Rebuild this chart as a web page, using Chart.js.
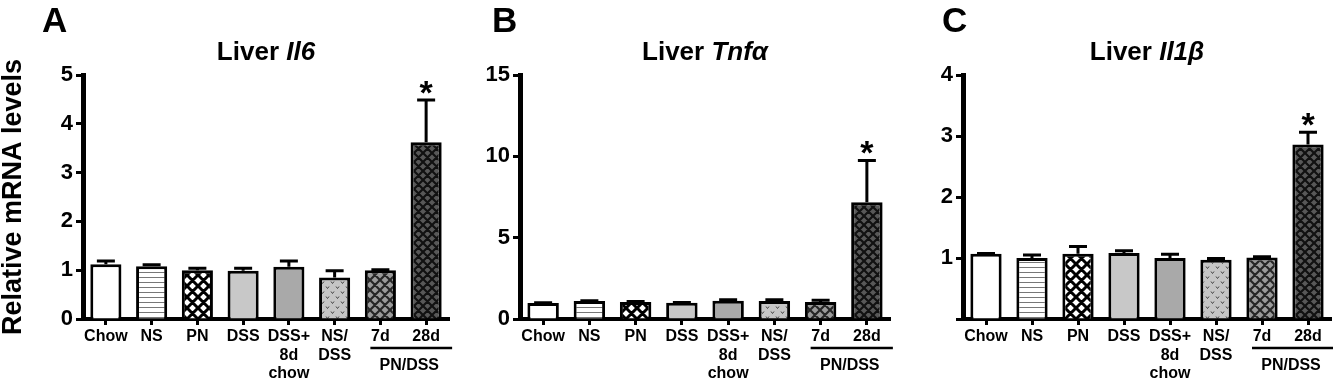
<!DOCTYPE html>
<html>
<head>
<meta charset="utf-8">
<script src="https://cdn.jsdelivr.net/npm/chart.js@4.4.0/dist/chart.umd.min.js"></script>
<style>
  html, body { margin: 0; padding: 0; background: #fff; }
  #wrap { position: relative; width: 1333px; height: 384px; overflow: hidden; }
  canvas { position: absolute; top: 0; }
</style>
</head>
<body>
<div id="wrap">
  <canvas id="chartA" width="460" height="384" style="left:0px"></canvas>
  <canvas id="chartB" width="450" height="384" style="left:450px"></canvas>
  <canvas id="chartC" width="433" height="384" style="left:900px"></canvas>
</div>
<script>
// groups on the x axis
const groups = ['Chow', 'NS', 'PN', 'DSS', ['DSS+', '8d', 'chow'], ['NS/', 'DSS'], '7d', '28d'];

// Liver Il6
const il6Mean = [1.12, 1.08, 1.00, 0.99, 1.07, 0.85, 1.00, 3.62];
const il6Sem  = [0.07, 0.03, 0.04, 0.05, 0.12, 0.14, 0.01, 0.87];
const il6Ticks = [0, 1, 2, 3, 4, 5];

// Liver Tnfa
const tnfMean = [0.98, 1.10, 1.04, 1.00, 1.12, 1.10, 1.04, 7.17];
const tnfSem  = [0.02, 0.02, 0.03, 0.02, 0.06, 0.09, 0.11, 2.58];
const tnfTicks = [0, 5, 10, 15];

// Liver Il1b
const il1bMean = [1.07, 1.00, 1.07, 1.08, 1.00, 0.97, 1.01, 2.86];
const il1bSem  = [0.005, 0.05, 0.12, 0.04, 0.06, 0.02, 0.01, 0.20];
const il1bTicks = [0, 1, 2, 3, 4];

// groups marked with *
const starIndex = 7;

Chart.defaults.font.family = '"Liberation Sans", Arial, sans-serif';
Chart.defaults.color = '#000';

// fill patterns for bars
function makePattern(size, bg, draw) {
    const c = document.createElement('canvas');
    c.width = size;
    c.height = size;
    const g = c.getContext('2d');
    g.fillStyle = bg;
    g.fillRect(0, 0, size, size);
    draw(g, size);
    return g.createPattern(c, 'repeat');
}

function crossHatch(size, bg, line, width) {
    return makePattern(size, bg, (g, s) => {
        g.strokeStyle = line;
        g.lineWidth = width;
        g.beginPath();
        [-s, 0, s].forEach(d => {
            g.moveTo(d, 0); g.lineTo(d + s, s);
            g.moveTo(d + s, 0); g.lineTo(d, s);
        });
        g.stroke();
    });
}

const fills = [
    '#ffffff',
    makePattern(5, '#ffffff', (g, s) => {
        g.fillStyle = '#777';
        g.fillRect(0, 2, s, 1);
    }),
    crossHatch(11, '#ffffff', '#000', 3),
    '#c8c8c8',
    '#a9a9a9',
    makePattern(10, '#c6c6c6', (g) => {
        g.strokeStyle = '#444';
        g.lineWidth = 1;
        g.beginPath();
        g.moveTo(1, 1.5); g.lineTo(2.5, 3.5); g.lineTo(4, 1.5);
        g.moveTo(6, 6.5); g.lineTo(7.5, 8.5); g.lineTo(9, 6.5);
        g.stroke();
    }),
    crossHatch(10, '#9a9a9a', '#262626', 2.2),
    crossHatch(9, '#585858', '#111', 2.2)
];

// extra drawings: panel letter, title, error bars, star, PN/DSS bracket
const extrasPlugin = {
    id: 'extras',
    afterDraw(chart, args, opts) {
        const ctx = chart.ctx;
        const area = chart.chartArea;
        const y = chart.scales.y;
        const meta = chart.getDatasetMeta(0);
        const means = chart.data.datasets[0].data;
        ctx.save();
        ctx.fillStyle = '#000';
        ctx.strokeStyle = '#000';
        ctx.textBaseline = 'alphabetic';

        // panel letter
        ctx.font = 'bold 35px "Liberation Sans", Arial, sans-serif';
        ctx.textAlign = 'left';
        ctx.fillText(opts.letter, 42, 32);

        // title: "Liver" + italic gene name
        const f1 = 'bold 26px "Liberation Sans", Arial, sans-serif';
        const f2 = 'italic bold 26px "Liberation Sans", Arial, sans-serif';
        ctx.font = f1;
        const w1 = ctx.measureText('Liver ').width;
        ctx.font = f2;
        const w2 = ctx.measureText(opts.gene).width;
        const tx = (area.left + area.right) / 2 - (w1 + w2) / 2;
        ctx.font = f1;
        ctx.fillText('Liver ', tx, 60);
        ctx.font = f2;
        ctx.fillText(opts.gene, tx + w1, 60);

        // error bars (upper only)
        ctx.lineWidth = 3;
        ctx.beginPath();
        opts.sem.forEach((s, i) => {
            const bx = meta.data[i].x;
            const yBar = y.getPixelForValue(means[i]);
            const yTop = y.getPixelForValue(means[i] + s);
            ctx.moveTo(bx, yBar);
            ctx.lineTo(bx, yTop);
            ctx.moveTo(bx - 9, yTop);
            ctx.lineTo(bx + 9, yTop);
        });
        ctx.stroke();

        // significance star
        const sx = meta.data[starIndex].x;
        const sTop = y.getPixelForValue(means[starIndex] + opts.sem[starIndex]);
        ctx.font = 'bold 34px "Liberation Sans", Arial, sans-serif';
        ctx.textAlign = 'center';
        ctx.fillText('*', sx, sTop + 4);

        // PN/DSS bracket under 7d and 28d
        const x7 = meta.data[6].x;
        const x28 = meta.data[7].x;
        ctx.lineWidth = 2.5;
        ctx.beginPath();
        ctx.moveTo(x7 - 10, 348);
        ctx.lineTo(x28 + 26, 348);
        ctx.stroke();
        ctx.font = 'bold 16px "Liberation Sans", Arial, sans-serif';
        ctx.fillText('PN/DSS', (x7 + x28) / 2 + 6, 370);
        ctx.restore();
    }
};

function buildChart(id, opts) {
    const ticks = opts.ticks;
    return new Chart(document.getElementById(id), {
        type: 'bar',
        data: {
            labels: groups,
            datasets: [{
                data: opts.mean,
                backgroundColor: fills,
                borderColor: '#000',
                borderWidth: 3,
                barPercentage: 0.68,
                categoryPercentage: 1.0
            }]
        },
        options: {
            responsive: false,
            animation: false,
            layout: { padding: { top: 75, right: opts.padRight, bottom: 0, left: 0 } },
            plugins: {
                legend: { display: false },
                tooltip: { enabled: false },
                extras: { letter: opts.letter, gene: opts.gene, sem: opts.sem }
            },
            scales: {
                x: {
                    afterFit: (scale) => { scale.height = 65; },
                    border: { display: true, color: '#000', width: 4 },
                    grid: {
                        display: true,
                        drawOnChartArea: false,
                        offset: false,
                        tickLength: 6,
                        tickWidth: 3,
                        tickColor: '#000'
                    },
                    ticks: {
                        font: { size: 16, weight: 'bold', lineHeight: 1.13 },
                        color: '#000',
                        padding: 3,
                        maxRotation: 0,
                        minRotation: 0,
                        autoSkip: false
                    }
                },
                y: {
                    min: ticks[0],
                    max: ticks[ticks.length - 1],
                    afterFit: (scale) => { scale.width = opts.axisWidth; },
                    border: { display: true, color: '#000', width: 5 },
                    grid: {
                        display: true,
                        drawOnChartArea: false,
                        tickLength: 7,
                        tickWidth: 3,
                        tickColor: '#000'
                    },
                    ticks: {
                        stepSize: ticks[1] - ticks[0],
                        font: { size: 22, weight: 'bold' },
                        color: '#000',
                        padding: 3,
                        callback: (v) => (opts.hideZero && v === 0) ? '' : v
                    },
                    title: {
                        display: !!opts.yTitle,
                        text: opts.yTitle || '',
                        color: '#000',
                        padding: 0,
                        font: { size: 27, weight: 'bold', lineHeight: 1 }
                    }
                }
            }
        },
        plugins: [extrasPlugin]
    });
}

buildChart('chartA', {
    letter: 'A', gene: 'Il6', mean: il6Mean, sem: il6Sem, ticks: il6Ticks,
    axisWidth: 83, padRight: 11, yTitle: 'Relative mRNA levels'
});
buildChart('chartB', {
    letter: 'B', gene: 'Tnf\u03b1', mean: tnfMean, sem: tnfSem, ticks: tnfTicks,
    axisWidth: 70, padRight: 10
});
buildChart('chartC', {
    letter: 'C', gene: 'Il1\u03b2', mean: il1bMean, sem: il1bSem, ticks: il1bTicks,
    axisWidth: 63, padRight: 2, hideZero: true
});
</script>
</body>
</html>
